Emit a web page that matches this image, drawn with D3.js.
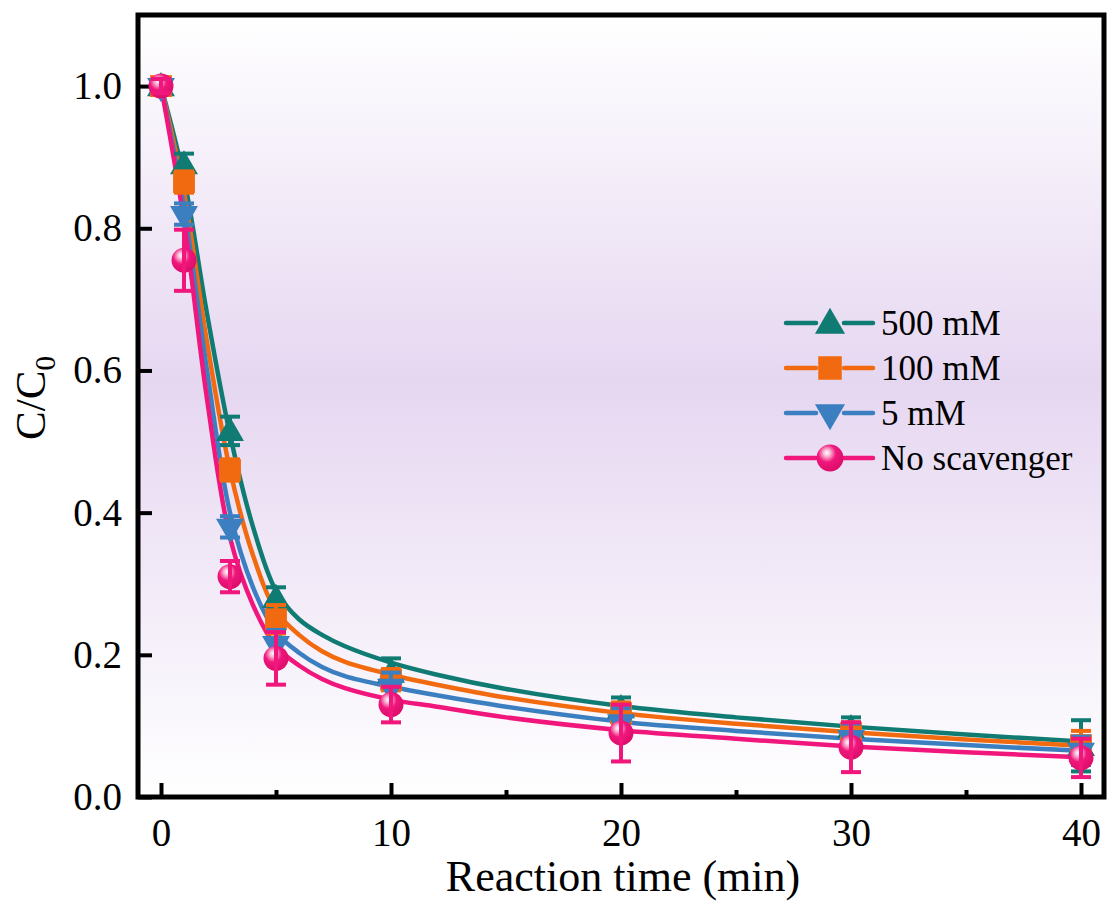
<!DOCTYPE html>
<html>
<head>
<meta charset="utf-8">
<script src="https://cdn.jsdelivr.net/npm/d3@7"></script>
<style>
  body { margin: 0; background: #fff; }
  svg { display: block; }
  text { font-family: "Liberation Serif", "Times New Roman", serif; fill: #000; }
</style>
</head>
<body>
<div id="chart"></div>
<script>
// measured points
var times = [0, 1, 3, 5, 10, 20, 30, 40];
var seriesNames = ["500 mM", "100 mM", "5 mM", "No scavenger"];
var mM500 = [1.0, 0.89, 0.515, 0.28, 0.175, 0.125, 0.097, 0.072];
var mM100 = [1.0, 0.865, 0.46, 0.25, 0.165, 0.118, 0.09, 0.073];
var mM5 = [1.0, 0.82, 0.38, 0.215, 0.155, 0.105, 0.083, 0.065];
var noScav = [1.0, 0.755, 0.31, 0.195, 0.13, 0.09, 0.07, 0.055];
var err500 = [0.01, 0.015, 0.02, 0.015, 0.02, 0.015, 0.015, 0.036];
var err100 = [0.01, 0.015, 0.015, 0.02, 0.015, 0.015, 0.015, 0.02];
var err5 = [0.01, 0.015, 0.015, 0.02, 0.02, 0.02, 0.02, 0.02];
var errNo = [0.01, 0.043, 0.022, 0.037, 0.025, 0.04, 0.035, 0.027];

// fitted curves
var fitTimes = [0, 1, 2, 3, 4, 5, 6, 7, 8, 10, 12, 15, 20, 25, 30, 35, 40];
var fit500 = [1.0, 0.87, 0.68, 0.51, 0.38, 0.29, 0.25, 0.228, 0.212, 0.189, 0.172, 0.152, 0.128, 0.112, 0.099, 0.088, 0.078];
var fit100 = [1.0, 0.85, 0.64, 0.46, 0.34, 0.262, 0.228, 0.205, 0.19, 0.172, 0.158, 0.14, 0.118, 0.103, 0.091, 0.081, 0.072];
var fit5 = [1.0, 0.83, 0.60, 0.40, 0.295, 0.232, 0.203, 0.183, 0.17, 0.155, 0.143, 0.127, 0.106, 0.093, 0.082, 0.073, 0.065];
var fitNo = [1.0, 0.81, 0.56, 0.365, 0.27, 0.212, 0.185, 0.166, 0.153, 0.137, 0.127, 0.112, 0.094, 0.082, 0.071, 0.063, 0.056];

var colors = ["#0f7b73", "#f26a10", "#3b7fc0", "#f0167c"];
var shapes = ["triangle", "square", "down", "circle"];

var xTicks = [0, 10, 20, 30, 40];
var xMinor = [5, 15, 25, 35];
var yTicks = [0, 0.2, 0.4, 0.6, 0.8, 1.0];

var series = seriesNames.map(function(n, i) {
    var vals = [mM500, mM100, mM5, noScav][i];
    var errs = [err500, err100, err5, errNo][i];
    var fits = [fit500, fit100, fit5, fitNo][i];
    return {
        name: n, color: colors[i], shape: shapes[i],
        points: times.map(function(t, j) { return {t: t, v: vals[j], e: errs[j]}; }),
        fit: fitTimes.map(function(t, j) { return {t: t, v: fits[j]}; })
    };
});

var W = 1109, H = 923;
var margin = {top: 15, right: 5, bottom: 126, left: 138};
var width = W - margin.left - margin.right,
    height = H - margin.top - margin.bottom;

var svg = d3.select("#chart").append("svg")
    .attr("width", W)
    .attr("height", H);

var defs = svg.append("defs");
var bg = defs.append("linearGradient").attr("id", "bg")
    .attr("x1", 0).attr("y1", 0).attr("x2", 0).attr("y2", 1);
bg.append("stop").attr("offset", "0%").attr("stop-color", "#ffffff");
bg.append("stop").attr("offset", "47%").attr("stop-color", "#e6d7f1");
bg.append("stop").attr("offset", "100%").attr("stop-color", "#ffffff");

var ball = defs.append("radialGradient").attr("id", "ball")
    .attr("cx", "40%").attr("cy", "35%").attr("r", "60%")
    .attr("fx", "38%").attr("fy", "30%");
ball.append("stop").attr("offset", "0%").attr("stop-color", "#ffffff");
ball.append("stop").attr("offset", "22%").attr("stop-color", "#fbb4d3");
ball.append("stop").attr("offset", "55%").attr("stop-color", "#f0167c");
ball.append("stop").attr("offset", "100%").attr("stop-color", "#de0f6c");

var g = svg.append("g")
    .attr("transform", "translate(" + margin.left + "," + margin.top + ")");

var x = d3.scaleLinear().domain([-1, 41]).range([0, width]);
var y = d3.scaleLinear().domain([0, 1.1]).range([height, 0]);

g.append("rect")
    .attr("width", width).attr("height", height)
    .attr("fill", "url(#bg)");

// axes, ticks inside
g.append("g")
    .attr("transform", "translate(0," + height + ")")
    .call(d3.axisBottom(x).tickValues(xTicks).tickSize(-14).tickPadding(21).tickFormat(d3.format("d")))
    .call(function(a) {
        a.select(".domain").remove();
        a.selectAll("line").attr("stroke-width", 4);
        a.selectAll("text").style("font-size", "39px");
    });

g.append("g")
    .attr("transform", "translate(0," + height + ")")
    .call(d3.axisBottom(x).tickValues(xMinor).tickSize(-7).tickFormat(""))
    .call(function(a) {
        a.select(".domain").remove();
        a.selectAll("line").attr("stroke-width", 4);
    });

g.append("g")
    .call(d3.axisLeft(y).tickValues(yTicks).tickSize(-14).tickPadding(16).tickFormat(d3.format(".1f")))
    .call(function(a) {
        a.select(".domain").remove();
        a.selectAll("line").attr("stroke-width", 4);
        a.selectAll("text").style("font-size", "39px");
    });

var line = d3.line()
    .x(function(d) { return x(d.t); })
    .y(function(d) { return y(d.v); })
    .curve(d3.curveCatmullRom.alpha(0.5));

var lines = g.append("g");
series.forEach(function(s) {
    lines.append("path")
        .datum(s.fit)
        .attr("fill", "none")
        .attr("stroke", s.color)
        .attr("stroke-width", 4.5)
        .attr("stroke-linejoin", "round")
        .attr("d", line);
});

function drawMarker(sel, shape, color, size) {
    if (shape === "circle") {
        sel.append("circle").attr("r", size * 0.48).attr("fill", "url(#ball)");
    } else if (shape === "square") {
        sel.append("rect")
            .attr("x", -size * 0.42).attr("y", -size * 0.42)
            .attr("width", size * 0.84).attr("height", size * 0.84)
            .attr("fill", color);
    } else {
        var sym = d3.symbol().type(d3.symbolTriangle).size(size * size * 0.5);
        sel.append("path").attr("d", sym)
            .attr("fill", color)
            .attr("transform", shape === "down" ? "rotate(180)" : "translate(0,2)");
    }
}

series.forEach(function(s) {
    var sg = g.append("g");
    s.points.forEach(function(p) {
        var cx = x(p.t);
        var m = sg.append("g").attr("transform", "translate(" + cx + "," + y(p.v) + ")");
        drawMarker(m, s.shape, s.color, 26);
        var eb = sg.append("g").attr("stroke", s.color).attr("stroke-width", 4);
        eb.append("line").attr("x1", cx).attr("x2", cx).attr("y1", y(p.v + p.e)).attr("y2", y(p.v - p.e));
        eb.append("line").attr("x1", cx - 10).attr("x2", cx + 10).attr("y1", y(p.v + p.e)).attr("y2", y(p.v + p.e));
        eb.append("line").attr("x1", cx - 10).attr("x2", cx + 10).attr("y1", y(p.v - p.e)).attr("y2", y(p.v - p.e));
    });
});

// frame
g.append("rect")
    .attr("width", width).attr("height", height)
    .attr("fill", "none")
    .attr("stroke", "#000")
    .attr("stroke-width", 5);

// legend
var legend = g.append("g").attr("transform", "translate(648,308)");
series.forEach(function(s, i) {
    var row = legend.append("g").attr("transform", "translate(0," + (i * 45) + ")");
    row.append("line").attr("x1", 0).attr("x2", 30)
        .attr("stroke", s.color).attr("stroke-width", 4.5).attr("stroke-linecap", "round");
    row.append("line").attr("x1", 58).attr("x2", 87)
        .attr("stroke", s.color).attr("stroke-width", 4.5).attr("stroke-linecap", "round");
    var m = row.append("g").attr("transform", "translate(44,0)");
    drawMarker(m, s.shape, s.color, 28);
    row.append("text")
        .attr("x", 95).attr("y", 0).attr("dy", "0.35em")
        .style("font-size", "35px")
        .text(s.name);
});

// axis titles
svg.append("text")
    .attr("x", 623).attr("y", 891)
    .attr("text-anchor", "middle")
    .style("font-size", "44px")
    .text("Reaction time (min)");

var yt = svg.append("text")
    .attr("transform", "translate(45,398) rotate(-90)")
    .attr("text-anchor", "middle")
    .style("font-size", "43px");
yt.append("tspan").text("C/C");
yt.append("tspan").attr("dy", 10).style("font-size", "29px").text("0");
</script>
</body>
</html>
